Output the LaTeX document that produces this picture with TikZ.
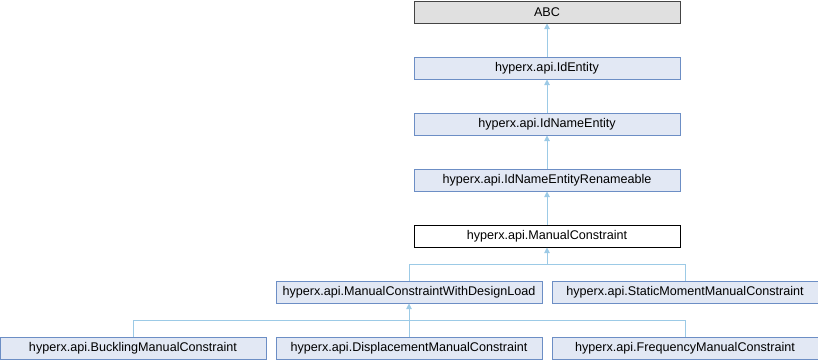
\documentclass[tikz,border=0pt]{standalone}
\usepackage{fontspec}
\setmainfont{Liberation Sans}
\usetikzlibrary{arrows.meta}
\definecolor{boxfill}{HTML}{E2E8F4}
\definecolor{boxdraw}{HTML}{6C8EC5}
\definecolor{edgecol}{HTML}{9CCAE6}
\definecolor{abcfill}{HTML}{E0E0E0}
\definecolor{abcdraw}{HTML}{444444}
\begin{document}
\begin{tikzpicture}[x=1pt,y=-1pt,
  cls/.style={draw=boxdraw,fill=boxfill,line width=1pt,minimum height=22pt,inner sep=0pt,font=\fontsize{12.6pt}{15pt}\selectfont,anchor=center},
  wide/.style={minimum width=266pt},
  abc/.style={cls,draw=abcdraw,fill=abcfill},
  cur/.style={cls,draw=black,fill=white},
  edge/.style={draw=edgecol,line width=1pt,-{Triangle[length=5.5pt,width=5.5pt,fill=edgecol]}}
]
\useasboundingbox (0,0) rectangle (818,360);
\node[abc,wide] (abc) at (547,12) {ABC};
\node[cls,wide] (ide) at (547,68) {hyperx.api.IdEntity};
\node[cls,wide] (idn) at (547,124) {hyperx.api.IdNameEntity};
\node[cls,wide] (idr) at (547,180) {hyperx.api.IdNameEntityRenameable};
\node[cur,wide] (mc) at (547,236) {hyperx.api.ManualConstraint};
\node[cls,wide] (mcw) at (409,292) {hyperx.api.ManualConstraintWithDesignLoad};
\node[cls,wide] (sm) at (685,292) {hyperx.api.StaticMomentManualConstraint};
\node[cls,wide] (bk) at (133,348) {hyperx.api.BucklingManualConstraint};
\node[cls,wide] (dp) at (409,348) {hyperx.api.DisplacementManualConstraint};
\node[cls,wide] (fq) at (685,348) {hyperx.api.FrequencyManualConstraint};
\draw[edge] (ide.north) -- (abc.south);
\draw[edge] (idn.north) -- (ide.south);
\draw[edge] (idr.north) -- (idn.south);
\draw[edge] (mc.north) -- (idr.south);
\coordinate (j1) at (547,264);
\coordinate (j2) at (409,320);
\draw[edge] (mcw.north) |- (j1) -- (mc.south);
\draw[draw=edgecol,line width=1pt] (sm.north) |- (j1);
\draw[edge] (dp.north) -- (mcw.south);
\draw[draw=edgecol,line width=1pt] (bk.north) |- (j2) -| (fq.north);
\end{tikzpicture}
\end{document}
